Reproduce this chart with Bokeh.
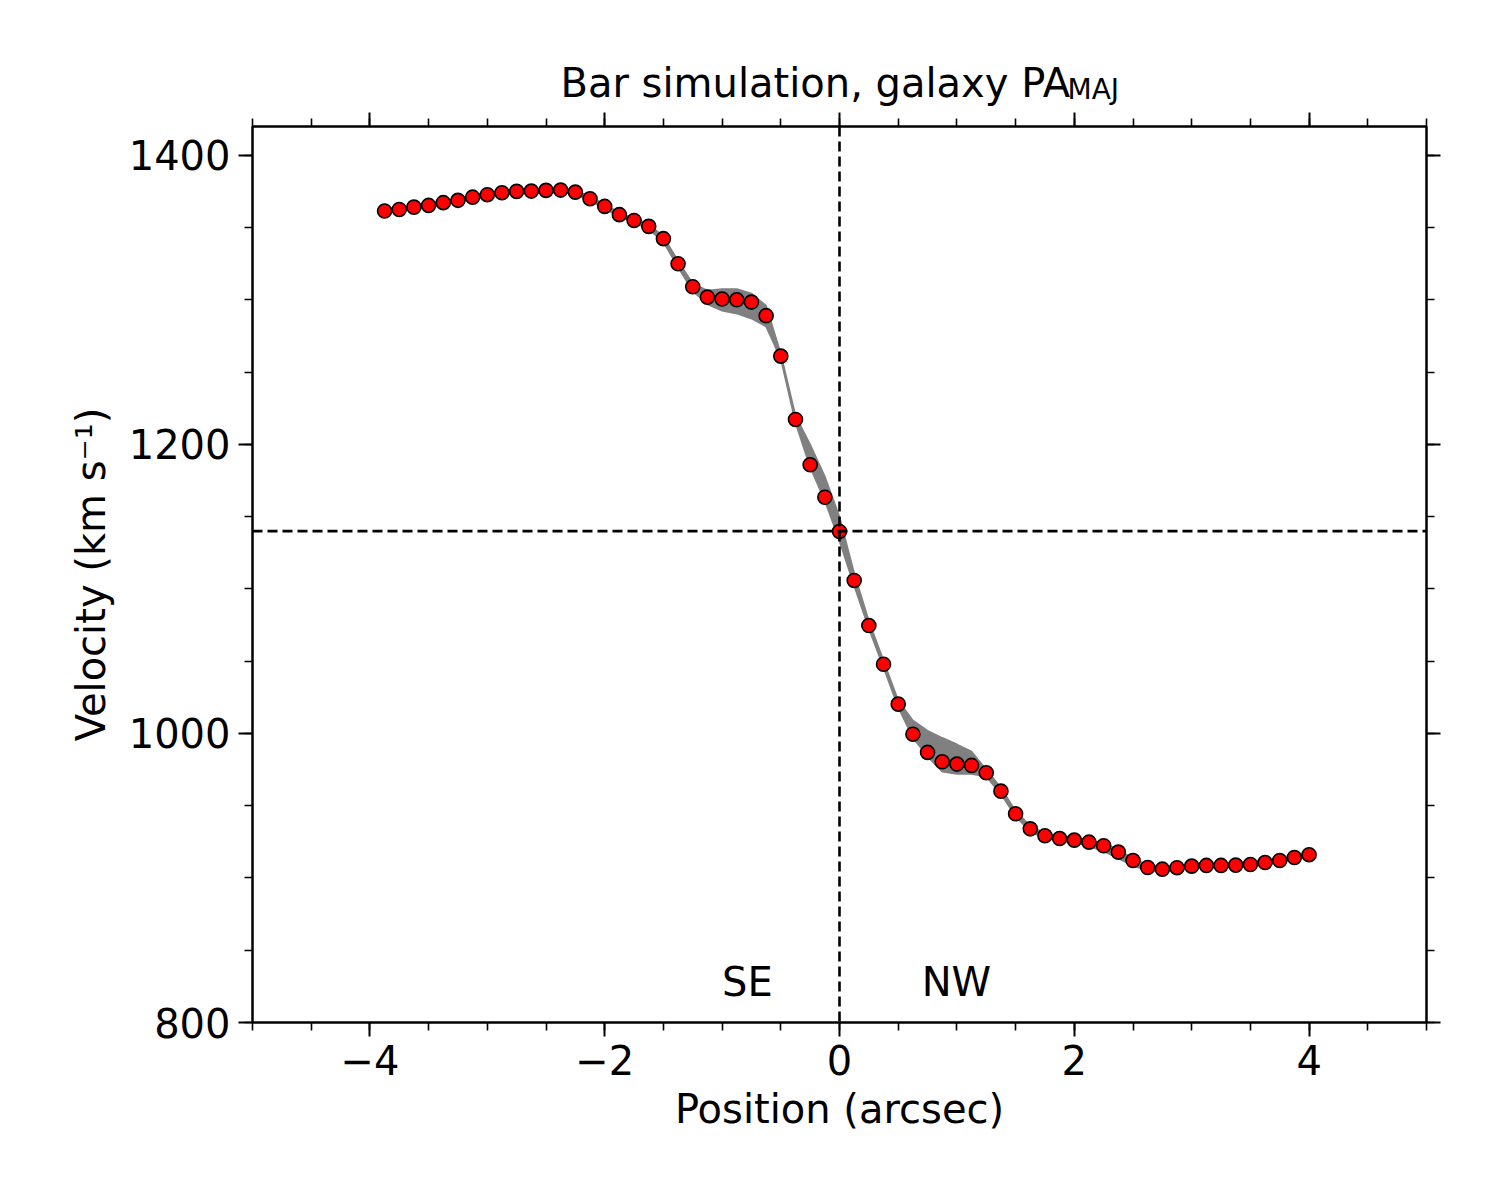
from bokeh.plotting import figure
from bokeh.layouts import column
from bokeh.models import (Range1d, LinearAxis, FixedTicker, Span,
                          ColumnDataSource, CustomLabelingPolicy)
from bokeh.core.properties import value
from bokeh.embed import file_html
from bokeh.resources import INLINE

# Position along the major axis (arcsec), 0.125" sampling
position = [-3.875 + 0.125 * i for i in range(64)]

# Measured line-of-sight velocity (km/s)
velocity = [
    1361.5, 1362.6, 1364.2, 1365.4, 1367.3, 1368.9, 1371.1, 1372.8,
    1374.2, 1375.1, 1375.3, 1375.8, 1376.0, 1374.6, 1370.0, 1364.7,
    1359.0, 1355.0, 1350.9, 1342.4, 1325.0, 1309.1, 1301.9, 1300.6,
    1300.1, 1298.5, 1289.1, 1261.1, 1217.3, 1185.9, 1163.5, 1139.8,
    1105.9, 1074.7, 1047.9, 1020.3, 999.5, 986.9, 980.4, 978.8,
    977.9, 972.8, 960.1, 944.4, 934.0, 929.2, 927.3, 926.2,
    924.8, 922.3, 917.9, 912.1, 907.3, 906.1, 907.1, 908.2,
    908.7, 908.7, 908.9, 909.3, 910.7, 912.1, 914.2, 916.1,
]

# Simulation envelope (lower / upper bound, km/s)
model_lo = [
    1360.0, 1361.1, 1362.7, 1363.9, 1365.8, 1367.4, 1369.6, 1371.3,
    1372.7, 1373.6, 1373.8, 1374.3, 1374.5, 1373.1, 1368.5, 1363.2,
    1357.5, 1353.5, 1349.0, 1340.0, 1322.5, 1306.0, 1297.0, 1292.5,
    1290.5, 1287.0, 1281.5, 1259.0, 1215.0, 1184.0, 1161.0, 1133.0,
    1102.0, 1072.5, 1045.5, 1018.0, 997.0, 984.0, 973.5, 972.0,
    972.0, 970.0, 958.0, 942.5, 932.0, 927.5, 925.5, 924.5,
    922.0, 918.5, 913.5, 908.5, 905.0, 904.5, 905.6, 906.7,
    907.2, 907.2, 907.4, 907.8, 909.2, 910.6, 912.7, 914.6,
]
model_hi = [
    1363.0, 1364.1, 1365.7, 1366.9, 1368.8, 1370.4, 1372.6, 1374.3,
    1375.7, 1376.6, 1376.8, 1377.3, 1377.5, 1376.1, 1371.5, 1366.2,
    1360.5, 1356.5, 1352.5, 1344.0, 1327.0, 1311.5, 1306.5, 1307.5,
    1307.5, 1304.5, 1296.0, 1263.0, 1220.0, 1200.0, 1178.0, 1150.0,
    1111.0, 1078.0, 1050.5, 1023.0, 1009.0, 1002.0, 997.0, 992.5,
    987.5, 975.0, 962.5, 946.5, 936.0, 931.0, 929.0, 928.0,
    926.5, 924.0, 919.5, 913.5, 909.0, 907.6, 908.6, 909.7,
    910.2, 910.2, 910.4, 910.8, 912.2, 913.6, 915.7, 917.6,
]

systemic_velocity = 1140.0
centre_position = 0.0

x_major = [-4, -2, 0, 2, 4]
x_minor = [-5 + 0.5 * k for k in range(21)]
y_major = [800, 1000, 1200, 1400]
y_minor = [800 + 50 * k for k in range(13)]

title_main = "Bar simulation, galaxy PA"
title_sub = "MAJ"

side_labels = ["SE", "NW"]
side_label_x = [-1.0, 0.7]
side_label_y = [828, 828]

FONT = "DejaVu Sans"
FS = "40px"
HEADER_H = 108
FRAME_LEFT, FRAME_RIGHT = 252, 1426

# ---- header strip carrying the title; its frame lines up with the
#      main frame, so x is given in page pixels, y in pixels from the bottom
header = figure(
    width=1500, height=HEADER_H,
    x_range=Range1d(FRAME_LEFT, FRAME_RIGHT), y_range=Range1d(0, HEADER_H),
    x_axis_type=None, y_axis_type=None,
    output_backend="svg", toolbar_location=None,
    min_border=0, min_border_left=FRAME_LEFT, min_border_right=1500 - FRAME_RIGHT,
)
header.outline_line_color = None
header.background_fill_color = "white"
header.border_fill_color = "white"
header.xgrid.grid_line_color = None
header.ygrid.grid_line_color = None
header.text(x=[560], y=[26], text=[title_main],
            text_font=value(FONT), text_font_size=FS, text_color="black",
            text_align="left", text_baseline="alphabetic")
header.text(x=[1067], y=[19], text=[title_sub],
            text_font=value(FONT), text_font_size="28px", text_color="black",
            text_align="left", text_baseline="alphabetic")

# ---- main panel ----
p = figure(
    width=1500, height=1200 - HEADER_H,
    x_range=Range1d(-5, 5), y_range=Range1d(800, 1420),
    output_backend="svg", toolbar_location=None,
    min_border_left=FRAME_LEFT, min_border_right=1500 - FRAME_RIGHT,
    min_border_top=126 - HEADER_H, min_border_bottom=178,
)
p.background_fill_color = "white"
p.border_fill_color = "white"
p.outline_line_color = "black"
p.outline_line_width = 2
p.xgrid.grid_line_color = None
p.ygrid.grid_line_color = None

src = ColumnDataSource(dict(x=position, v=velocity, lo=model_lo, hi=model_hi))

# simulation envelope
p.varea(x="x", y1="lo", y2="hi", source=src, fill_color="#808080")
p.line(x="x", y="lo", source=src, line_color="#808080", line_width=1.5)
p.line(x="x", y="hi", source=src, line_color="#808080", line_width=1.5)

# measured points
p.scatter(x="x", y="v", source=src, size=14, fill_color="#ff0000",
          line_color="black", line_width=1.6)

# reference lines
p.add_layout(Span(location=centre_position, dimension="height",
                  line_color="black", line_width=2.6, line_dash="10 5"))
p.add_layout(Span(location=systemic_velocity, dimension="width",
                  line_color="black", line_width=2.6, line_dash="10 5"))

# side labels
p.text(x=side_label_x, y=side_label_y, text=side_labels,
       text_font=value(FONT), text_font_size=FS, text_color="black",
       text_align="left", text_baseline="alphabetic")

# ticks only, no labels, on the mirrored axes
no_labels = CustomLabelingPolicy(
    code="for (const i of Array.from(indices)) { indices.unset(i) } return indices")


def style_axis(ax, ticks, minor, show_labels):
    ax.ticker = FixedTicker(ticks=ticks, minor_ticks=minor)
    ax.axis_line_width = 2
    ax.axis_line_color = "black"
    ax.major_tick_in = 0
    ax.major_tick_out = 14
    ax.minor_tick_in = 0
    ax.minor_tick_out = 8
    ax.major_tick_line_width = 2
    ax.minor_tick_line_width = 1.6
    ax.major_label_text_font = FONT
    ax.major_label_text_color = "black"
    ax.axis_label_text_font = FONT
    ax.axis_label_text_font_style = "normal"
    ax.axis_label_text_font_size = FS
    ax.axis_label_text_color = "black"
    if show_labels:
        ax.major_label_text_font_size = FS
    else:
        ax.major_label_text_font_size = "1px"
        ax.major_label_standoff = 0
        ax.major_label_policy = no_labels


style_axis(p.xaxis[0], x_major, x_minor, True)
style_axis(p.yaxis[0], y_major, y_minor, True)
p.xaxis[0].major_label_overrides = {-4: "\u22124", -2: "\u22122"}
p.xaxis[0].axis_label = "Position (arcsec)"
p.yaxis[0].axis_label = "Velocity (km s\u207b\u00b9)"
p.xaxis[0].major_label_standoff = 8
p.yaxis[0].major_label_standoff = 8
p.xaxis[0].axis_label_standoff = 8
p.yaxis[0].axis_label_standoff = 12

top_axis = LinearAxis()
style_axis(top_axis, x_major, x_minor, False)
p.add_layout(top_axis, "above")
right_axis = LinearAxis()
style_axis(right_axis, y_major, y_minor, False)
p.add_layout(right_axis, "right")

layout = column(header, p, spacing=0)
open("out.html", "w").write(file_html(layout, INLINE))
